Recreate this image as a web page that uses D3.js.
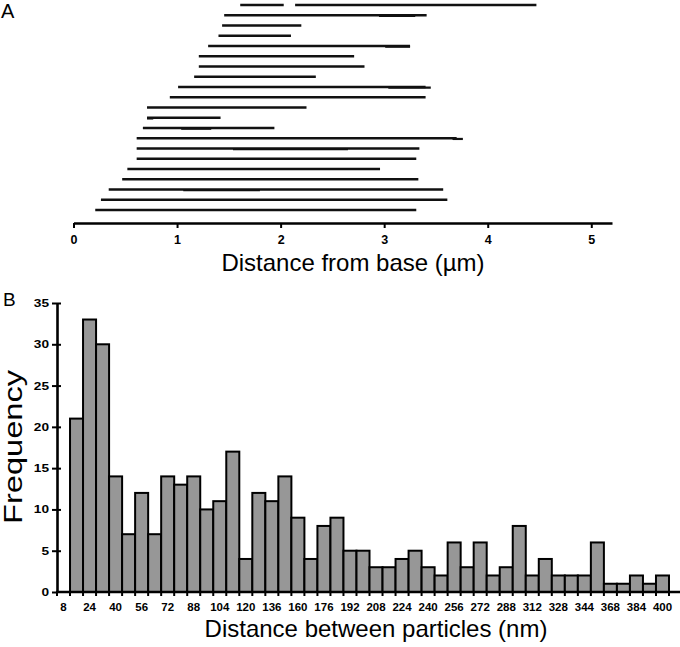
<!DOCTYPE html>
<html>
<head>
<meta charset="utf-8">
<script src="https://cdn.jsdelivr.net/npm/d3@7"></script>
<style>
body { margin: 0; background: #fff; }
svg { display: block; font-family: "Liberation Sans", Arial, sans-serif; }
</style>
</head>
<body>
<svg id="chart"></svg>
<script>
// panel A: [row, start (um), end (um)], row 0 is the top one
const runs = [
    [0, 1.61, 2.03], [0, 2.14, 4.47],
    [1, 1.455, 3.41],
    [2, 1.435, 2.20],
    [3, 1.40, 2.10],
    [4, 1.30, 3.25],
    [5, 1.21, 2.71],
    [6, 1.21, 2.81],
    [7, 1.165, 2.34],
    [8, 1.01, 3.40],
    [9, 0.93, 3.40],
    [10, 0.71, 2.25],
    [11, 0.71, 1.42],
    [12, 0.67, 1.94],
    [13, 0.61, 3.70],
    [14, 0.61, 3.34],
    [15, 0.61, 3.31],
    [16, 0.52, 2.96],
    [17, 0.47, 3.33],
    [18, 0.34, 3.57],
    [19, 0.265, 3.61],
    [20, 0.21, 3.31]
]
// short runs lying on top of another one in the same row
const overlaps = [
    [1, 2.95, 3.30], [4, 3.01, 3.25], [8, 3.04, 3.45], [11, 0.71, 0.77],
    [12, 1.04, 1.33], [13, 3.66, 3.76], [14, 1.54, 2.65], [18, 1.06, 1.80]
]
const distTicks = [0, 1, 2, 3, 4, 5]

// panel B
const binLabels = ['8', '24', '40', '56', '72', '88', '104', '120', '136', '160', '176', '192',
    '208', '224', '240', '256', '272', '288', '312', '328', '344', '368', '384', '400']
const binCounts = [0, 21, 33, 30, 14, 7, 12, 7, 14, 13, 14, 10, 11, 17, 4, 12, 11, 14, 9, 4,
    8, 9, 5, 5, 3, 3, 4, 5, 3, 2, 6, 3, 6, 2, 3, 8, 2, 4, 2, 2, 2, 6, 1, 1, 2, 1, 2]
const freqTicks = [0, 5, 10, 15, 20, 25, 30, 35]

const w = 680
const h = 647
const svg = d3.select('#chart').attr('width', w).attr('height', h)

// ---------- A ----------
const xA = d3.scaleLinear().domain([0, 5.2]).range([73.5, 612])
const yA = d3.scalePoint().domain(d3.range(21)).range([5, 210])

svg.append('text').attr('x', 1).attr('y', 18)
    .style('font-size', '20px').text('A')

svg.append('g').selectAll('line')
    .data(runs)
    .join('line')
    .attr('x1', d => xA(d[1]))
    .attr('x2', d => xA(d[2]))
    .attr('y1', d => yA(d[0]))
    .attr('y2', d => yA(d[0]))
    .attr('stroke', '#111')
    .attr('stroke-width', 2.4)

svg.append('g').selectAll('line')
    .data(overlaps)
    .join('line')
    .attr('x1', d => xA(d[1]))
    .attr('x2', d => xA(d[2]))
    .attr('y1', d => yA(d[0]) + 0.7)
    .attr('y2', d => yA(d[0]) + 0.7)
    .attr('stroke', '#111')
    .attr('stroke-width', 2.2)

const axisA = svg.append('g')
    .attr('transform', 'translate(0,223)')
    .call(d3.axisBottom(xA).tickValues(distTicks).tickFormat(d3.format('d'))
        .tickSize(5).tickSizeOuter(0).tickPadding(7))
axisA.select('.domain').attr('stroke', '#000').attr('stroke-width', 2.6)
axisA.selectAll('.tick line').attr('stroke-width', 2)
axisA.selectAll('.tick text')
    .style('font-size', '12.5px').style('font-weight', 'bold')
    .style('font-family', '"Liberation Sans", Arial, sans-serif')

svg.append('text')
    .attr('x', 353).attr('y', 271)
    .attr('text-anchor', 'middle')
    .style('font-size', '24px')
    .text('Distance from base (\u00b5m)')

// ---------- B ----------
const xB = d3.scaleBand().domain(d3.range(binCounts.length)).range([57, 669])
const yB = d3.scaleLinear().domain([0, 35]).range([592, 303])
const bw = xB.bandwidth()

svg.append('text').attr('x', 3).attr('y', 306)
    .style('font-size', '19px').text('B')

svg.append('g').selectAll('rect')
    .data(binCounts.map((v, i) => ({ i, v })).filter(d => d.v > 0))
    .join('rect')
    .attr('x', d => xB(d.i))
    .attr('y', d => yB(d.v))
    .attr('width', bw)
    .attr('height', d => yB(0) - yB(d.v))
    .attr('fill', '#979797')
    .attr('stroke', '#000')
    .attr('stroke-width', 2)

// small ticks under every bin edge
svg.append('g').selectAll('line')
    .data(d3.range(binCounts.length + 1))
    .join('line')
    .attr('x1', i => 57 + i * bw)
    .attr('x2', i => 57 + i * bw)
    .attr('y1', 592)
    .attr('y2', 596)
    .attr('stroke', '#000')
    .attr('stroke-width', 2)

svg.append('line')
    .attr('x1', 56).attr('x2', 680)
    .attr('y1', 592).attr('y2', 592)
    .attr('stroke', '#000').attr('stroke-width', 2.6)

const axisBx = svg.append('g')
    .attr('transform', 'translate(0,592)')
    .call(d3.axisBottom(xB).tickValues(d3.range(0, binCounts.length, 2))
        .tickFormat(i => binLabels[i / 2]).tickSize(0).tickPadding(12))
axisBx.select('.domain').remove()
axisBx.selectAll('.tick text')
    .style('font-size', '10.5px').style('font-weight', 'bold')
    .style('font-family', '"Liberation Sans", Arial, sans-serif')
    .attr('textLength', d => binLabels[d / 2].length * 6.4)
    .attr('lengthAdjust', 'spacingAndGlyphs')

const axisBy = svg.append('g')
    .attr('transform', 'translate(57,0)')
    .call(d3.axisLeft(yB).tickValues(freqTicks).tickSize(5).tickSizeOuter(0).tickPadding(3))
axisBy.select('.domain').attr('stroke', '#000').attr('stroke-width', 2.6)
axisBy.selectAll('.tick line').attr('x1', d => d > 0 ? 4 : 0).attr('stroke-width', 2)
axisBy.selectAll('.tick text')
    .style('font-size', '11px').style('font-weight', 'bold')
    .style('font-family', '"Liberation Sans", Arial, sans-serif')
    .attr('textLength', d => String(d).length * 7.6)
    .attr('lengthAdjust', 'spacingAndGlyphs')

svg.append('text')
    .attr('transform', 'translate(22,447) rotate(-90)')
    .attr('text-anchor', 'middle')
    .attr('textLength', 154)
    .attr('lengthAdjust', 'spacingAndGlyphs')
    .style('font-size', '25px')
    .text('Frequency')

svg.append('text')
    .attr('x', 376).attr('y', 637)
    .attr('text-anchor', 'middle')
    .style('font-size', '24px')
    .text('Distance between particles (nm)')
</script>
</body>
</html>
